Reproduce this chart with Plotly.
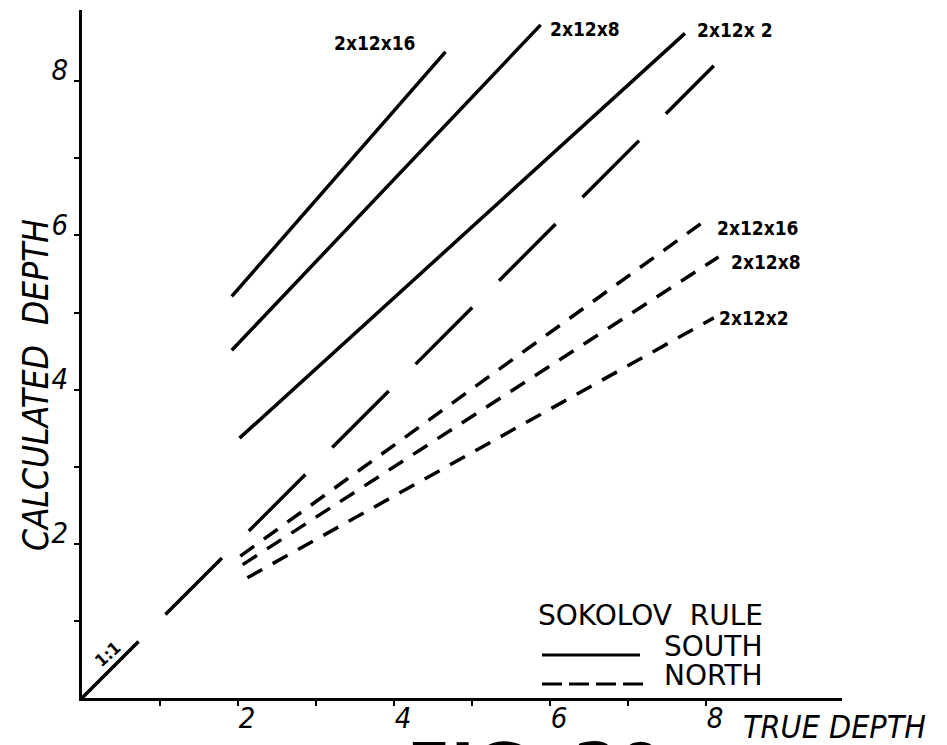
import plotly.graph_objects as go

# ---- data (true depth vs calculated depth) ----
ratio_x = [0.0, 8.1]
ratio_y = [0.0, 8.2]

south_16_x = [1.92, 4.66]
south_16_y = [5.21, 8.38]
south_8_x = [1.92, 5.88]
south_8_y = [4.51, 8.73]
south_2_x = [2.02, 7.73]
south_2_y = [3.37, 8.62]

north_16_x = [2.03, 7.93]
north_16_y = [1.84, 6.15]
north_8_x = [2.06, 8.16]
north_8_y = [1.73, 5.72]
north_2_x = [2.12, 8.10]
north_2_y = [1.56, 4.93]

tick_vals = [1, 2, 3, 4, 5, 6, 7, 8]
tick_text = ["", "2", "", "4", "", "6", "", "8"]

# ---- page geometry ----
W, H = 947, 745
L, R, T, B = 82, 105, 10, 47
PW, PH = W - L - R, H - T - B
X_MAX = PW / 78.0
Y_MAX = PH / 77.1


def paper_x(px):
    return (px - L) / PW


def paper_y(py):
    return (H - B - py) / PH


INK = "black"
NARROW = "DejaVu Sans Condensed, Liberation Sans Narrow, DejaVu Sans, sans-serif"
WIDE = "DejaVu Sans, Liberation Sans, sans-serif"

fig = go.Figure()


def add_line(xs, ys, dash, width):
    fig.add_trace(go.Scatter(
        x=xs, y=ys, mode="lines",
        line=dict(color=INK, width=width, dash=dash),
        showlegend=False, hoverinfo="skip",
    ))


add_line(ratio_x, ratio_y, "80px,38px", 3.5)
add_line(south_16_x, south_16_y, "solid", 3.5)
add_line(south_8_x, south_8_y, "solid", 3.5)
add_line(south_2_x, south_2_y, "solid", 3.5)
add_line(north_16_x, north_16_y, "17px,12px", 3.5)
add_line(north_8_x, north_8_y, "17px,12px", 3.5)
add_line(north_2_x, north_2_y, "17px,12px", 3.5)

label_font = dict(family=NARROW, size=19, color=INK, weight="bold")

# curve labels (anchored to the curve ends)
curve_labels = [
    (south_16_x[1] - 0.9, south_16_y[1] + 0.12, "2x12x16", "center"),
    (south_8_x[1] + 0.09, south_8_y[1] - 0.05, "2x12x8", "left"),
    (south_2_x[1] + 0.13, south_2_y[1] + 0.05, "2x12x 2", "left"),
    (north_16_x[1] + 0.19, north_16_y[1] - 0.05, "2x12x16", "left"),
    (north_8_x[1] + 0.13, north_8_y[1] - 0.06, "2x12x8", "left"),
    (north_2_x[1] + 0.04, north_2_y[1], "2x12x2", "left"),
]
for x, y, txt, anchor in curve_labels:
    fig.add_annotation(x=x, y=y, xref="x", yref="y", text=txt, showarrow=False,
                       xanchor=anchor, yanchor="middle", font=label_font)

# 1:1 label along the reference line
fig.add_annotation(x=0.33, y=0.57, xref="x", yref="y", text="1:1", showarrow=False,
                   textangle=-42, font=dict(family=NARROW, size=17, color=INK, weight="bold"))

# axis titles
fig.add_annotation(x=paper_x(741), y=paper_y(727), xref="paper", yref="paper",
                   text="TRUE DEPTH", showarrow=False, xanchor="left", yanchor="middle",
                   font=dict(family=NARROW, size=32, color=INK, style="italic"))
fig.add_annotation(x=paper_x(36), y=paper_y(385), xref="paper", yref="paper",
                   text="CALCULATED\u00a0 DEPTH", showarrow=False, textangle=-90,
                   xanchor="center", yanchor="middle",
                   font=dict(family=NARROW, size=35, color=INK, style="italic"))

# figure caption, mostly below the page edge
fig.add_annotation(x=paper_x(405), y=paper_y(728), xref="paper", yref="paper",
                   text="FIG. 20", showarrow=False, xanchor="left", yanchor="top",
                   font=dict(family=WIDE, size=64, color=INK, weight="bold"))

# key
key_font = dict(family=WIDE, size=28, color=INK)
fig.add_annotation(x=paper_x(536), y=paper_y(615), xref="paper", yref="paper",
                   text="SOKOLOV\u00a0 RULE", showarrow=False, xanchor="left", yanchor="middle",
                   font=key_font)
fig.add_annotation(x=paper_x(662), y=paper_y(646), xref="paper", yref="paper",
                   text="SOUTH", showarrow=False, xanchor="left", yanchor="middle",
                   font=key_font)
fig.add_annotation(x=paper_x(662), y=paper_y(675), xref="paper", yref="paper",
                   text="NORTH", showarrow=False, xanchor="left", yanchor="middle",
                   font=key_font)
fig.add_shape(type="line", xref="paper", yref="paper",
              x0=paper_x(542), x1=paper_x(640), y0=paper_y(655), y1=paper_y(655),
              line=dict(color=INK, width=3))
fig.add_shape(type="line", xref="paper", yref="paper",
              x0=paper_x(542), x1=paper_x(645), y0=paper_y(684), y1=paper_y(684),
              line=dict(color=INK, width=3, dash="20px,7px"))

axis_common = dict(
    showline=True, linecolor=INK, linewidth=3,
    ticks="outside", ticklen=5, tickwidth=2, tickcolor=INK,
    tickvals=tick_vals, ticktext=tick_text,
    showgrid=False, zeroline=False, automargin=False,
    tickfont=dict(family=NARROW, size=29, color=INK, style="italic"),
    fixedrange=True,
)

fig.update_layout(
    width=W, height=H,
    margin=dict(l=L, r=R, t=T, b=B, pad=0, autoexpand=False),
    paper_bgcolor="white", plot_bgcolor="white",
    showlegend=False,
    xaxis=dict(range=[0, X_MAX], ticklabelshift=9, ticklabelstandoff=-13, **axis_common),
    yaxis=dict(range=[0, Y_MAX], ticklabelshift=-11, **axis_common),
)

fig.write_html("out.html")
